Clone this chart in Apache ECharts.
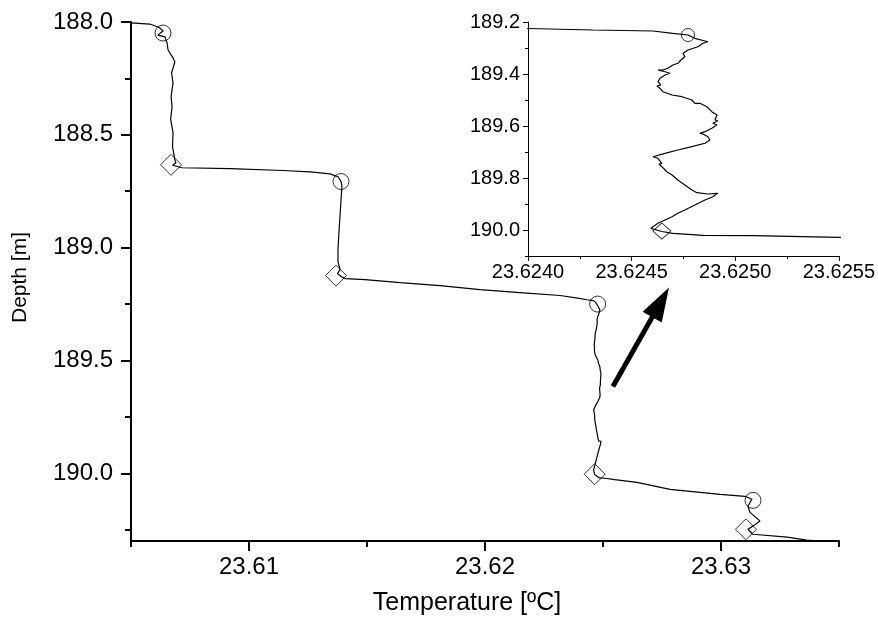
<!DOCTYPE html>
<html>
<head>
<meta charset="utf-8">
<title>Temperature profile</title>
<script src="https://cdn.jsdelivr.net/npm/echarts@6/dist/echarts.min.js"></script>
<style>
  html, body { margin: 0; padding: 0; background: #fff; }
  #chart { width: 878px; height: 621px; }
</style>
</head>
<body>
<div id="chart"></div>
<script>
// profile, top to bottom: temperature [ºC] and depth [m]
const temperature = [
  23.60500, 23.60580, 23.60614, 23.60623, 23.60636, 23.60614, 23.60644, 23.60653, 23.60657, 23.60678,
  23.60686, 23.60672, 23.60678, 23.60670, 23.60674, 23.60668, 23.60678, 23.60676, 23.60686, 23.60690,
  23.60676, 23.60716, 23.60920, 23.61144, 23.61259, 23.61343, 23.61377, 23.61390, 23.61394, 23.61390,
  23.61386, 23.61381, 23.61377, 23.61377, 23.61386, 23.61375, 23.61390, 23.61407, 23.61492, 23.61640,
  23.61809, 23.61979, 23.62148, 23.62318,
  23.624000, 23.624313, 23.624603, 23.624699, 23.624772, 23.624805, 23.624868, 23.624844, 23.624820, 23.624772,
  23.624748, 23.624757, 23.624738, 23.624723, 23.624699, 23.624675, 23.624651, 23.624627, 23.624661, 23.624685,
  23.624661, 23.624637, 23.624646, 23.624627, 23.624641, 23.624622, 23.624637, 23.624651, 23.624695, 23.624743,
  23.624791, 23.624805, 23.624830, 23.624863, 23.624887, 23.624912, 23.624902, 23.624916, 23.624892, 23.624912,
  23.624887, 23.624854, 23.624830, 23.624844, 23.624868, 23.624878, 23.624854, 23.624791, 23.624723, 23.624661,
  23.624603, 23.624627, 23.624646, 23.624632, 23.624646, 23.624670, 23.624695, 23.624723, 23.624757, 23.624791,
  23.624815, 23.624868, 23.624916, 23.624892, 23.624854, 23.624805, 23.624757, 23.624723, 23.624695, 23.624661,
  23.624627, 23.624603, 23.624593, 23.624646, 23.624699, 23.624844, 23.625085, 23.625500,
  23.62644, 23.62784, 23.62996, 23.63102, 23.63131, 23.63114, 23.63123, 23.63165, 23.63137, 23.63114,
  23.63135, 23.63280, 23.63364, 23.63462
];
const depth = [
  188.004, 188.009, 188.022, 188.027, 188.040, 188.058, 188.066, 188.093, 188.124, 188.159,
  188.177, 188.225, 188.270, 188.330, 188.376, 188.430, 188.491, 188.553, 188.611, 188.625,
  188.635, 188.646, 188.650, 188.658, 188.664, 188.673, 188.686, 188.707, 188.726, 188.788,
  188.854, 188.934, 189.009, 189.062, 189.097, 189.115, 189.128, 189.137, 189.142, 189.155,
  189.168, 189.186, 189.199, 189.212,
  189.2250, 189.2308, 189.2346, 189.2435, 189.2500, 189.2627, 189.2758, 189.2819, 189.2950, 189.3077,
  189.3204, 189.3335, 189.3462, 189.3588, 189.3654, 189.3781, 189.3846, 189.3846, 189.3912, 189.3973,
  189.4038, 189.4165, 189.4231, 189.4296, 189.4423, 189.4462, 189.4550, 189.4681, 189.4808, 189.4873,
  189.5000, 189.5127, 189.5127, 189.5258, 189.5450, 189.5577, 189.5769, 189.5808, 189.5896, 189.5962,
  189.6088, 189.6219, 189.6281, 189.6308, 189.6412, 189.6538, 189.6665, 189.6796, 189.6923, 189.7050,
  189.7181, 189.7242, 189.7435, 189.7462, 189.7565, 189.7758, 189.7885, 189.8077, 189.8269, 189.8462,
  189.8565, 189.8615, 189.8588, 189.8719, 189.8846, 189.9038, 189.9231, 189.9358, 189.9488, 189.9615,
  189.9742, 189.9873, 189.9935, 190.0058, 190.0127, 190.0204, 190.0219, 190.0281,
  190.040, 190.071, 190.093, 190.102, 190.115, 190.146, 190.173, 190.211, 190.233, 190.248,
  190.270, 190.283, 190.296, 190.305
];

// open markers
const circleTemp = [23.606356, 23.613898, 23.624772, 23.631356];
const circleDepth = [188.049, 188.707, 189.250, 190.120];
const diamondTemp = [23.606695, 23.613686, 23.624646, 23.631059];
const diamondDepth = [188.633, 189.124, 190.004, 190.248];

// ticks
const mainTempTicks = [23.61, 23.62, 23.63];
const mainTempMinor = [23.605, 23.615, 23.625, 23.635];
const mainDepthTicks = [188.0, 188.5, 189.0, 189.5, 190.0];
const mainDepthMinor = [188.25, 188.75, 189.25, 189.75, 190.25];
const insetTempTicks = [23.624, 23.6245, 23.625, 23.6255];
const insetTempMinor = [23.62425, 23.62475, 23.62525];
const insetDepthTicks = [189.2, 189.4, 189.6, 189.8, 190.0];
const insetDepthMinor = [189.3, 189.5, 189.7, 189.9, 190.1];

// arrow pointing to the inset (tail, head centre)
const arrowTail = [23.62542, 189.615];
const arrowHead = [23.62744, 189.2425];

const profile = temperature.map((t, i) => [t, depth[i]]);
const circles = circleTemp.map((t, i) => [t, circleDepth[i]]);
const diamonds = diamondTemp.map((t, i) => [t, diamondDepth[i]]);

const FONT = "'Liberation Sans', Arial, sans-serif";

function majorAxis(grid, min, max, ticks, digits, size, tickLen, lineW, position, margin) {
  return {
    type: 'value', gridIndex: grid, min: min, max: max, position: position,
    splitLine: { show: false },
    axisLine: { show: true, onZero: false, lineStyle: { color: '#000', width: lineW } },
    axisTick: { show: true, inside: false, length: tickLen, customValues: ticks,
      lineStyle: { color: '#000', width: lineW } },
    axisLabel: { show: true, customValues: ticks, margin: margin, color: '#000',
      fontSize: size, fontFamily: FONT, formatter: v => Number(v).toFixed(digits) }
  };
}
function minorAxis(grid, min, max, ticks, tickLen, lineW, position) {
  return {
    type: 'value', gridIndex: grid, min: min, max: max, position: position,
    splitLine: { show: false },
    axisLine: { show: false, onZero: false },
    axisTick: { show: true, inside: false, length: tickLen, customValues: ticks,
      lineStyle: { color: '#000', width: lineW } },
    axisLabel: { show: false }
  };
}

const xMain = majorAxis(0, 23.605, 23.635, mainTempTicks, 2, 24, 10, 2, 'bottom', 14);
xMain.name = 'Temperature [ºC]';
xMain.nameLocation = 'middle';
xMain.nameGap = 50;
xMain.nameTextStyle = { fontSize: 25, fontFamily: FONT, color: '#000', padding: [0, 36, 0, 0] };

const yMain = majorAxis(0, 188.0, 190.3, mainDepthTicks, 1, 24, 10, 2, 'left', 18);
yMain.inverse = true;
yMain.name = 'Depth [m]';
yMain.nameLocation = 'middle';
yMain.nameGap = 100;
yMain.nameRotate = 90;
yMain.nameTextStyle = { fontSize: 21, fontFamily: FONT, color: '#000', padding: [0, 0, 0, 8] };

const yMainMinor = minorAxis(0, 188.0, 190.3, mainDepthMinor, 6, 2, 'left');
yMainMinor.inverse = true;

const yInset = majorAxis(1, 189.2, 190.1, insetDepthTicks, 1, 20, 5, 1, 'left', 8);
yInset.inverse = true;
const yInsetMinor = minorAxis(1, 189.2, 190.1, insetDepthMinor, 3, 1, 'left');
yInsetMinor.inverse = true;

const lineStyle = { color: '#000', width: 1.2 };
const hollow = { color: 'rgba(0,0,0,0)', borderColor: '#000', borderWidth: 1 };

const chart = echarts.init(document.getElementById('chart'), null, { renderer: 'canvas' });
chart.setOption({
  animation: false,
  backgroundColor: '#fff',
  grid: [
    { left: 131, top: 22, right: 39, bottom: 79 },
    { left: 528, top: 22, right: 39, bottom: 365 }
  ],
  xAxis: [
    xMain,
    minorAxis(0, 23.605, 23.635, mainTempMinor, 6, 2, 'bottom'),
    majorAxis(1, 23.624, 23.6255, insetTempTicks, 4, 20, 5, 1, 'bottom', 6),
    minorAxis(1, 23.624, 23.6255, insetTempMinor, 3, 1, 'bottom')
  ],
  yAxis: [yMain, yMainMinor, yInset, yInsetMinor],
  series: [
    {
      type: 'line', xAxisIndex: 0, yAxisIndex: 0, data: profile,
      showSymbol: false, symbol: 'none', lineStyle: lineStyle, silent: true, clip: true,
      markLine: {
        silent: true, animation: false,
        label: { show: false },
        lineStyle: { color: '#000', width: 5, type: 'solid' },
        data: [[
          { coord: arrowTail, symbol: 'none' },
          { coord: arrowHead, symbol: 'triangle', symbolSize: [22, 34] }
        ]]
      }
    },
    { type: 'scatter', xAxisIndex: 0, yAxisIndex: 0, data: circles, symbol: 'circle',
      symbolSize: 16, itemStyle: hollow, silent: true },
    { type: 'scatter', xAxisIndex: 0, yAxisIndex: 0, data: diamonds, symbol: 'diamond',
      symbolSize: 21, itemStyle: hollow, silent: true },
    { type: 'line', xAxisIndex: 2, yAxisIndex: 2, data: profile,
      showSymbol: false, symbol: 'none', lineStyle: lineStyle, silent: true, clip: true },
    { type: 'scatter', xAxisIndex: 2, yAxisIndex: 2, data: circles, symbol: 'circle',
      symbolSize: 13, itemStyle: hollow, silent: true, clip: true },
    { type: 'scatter', xAxisIndex: 2, yAxisIndex: 2, data: diamonds, symbol: 'diamond',
      symbolSize: [18, 16], itemStyle: hollow, silent: true, clip: true }
  ]
});
window.addEventListener('resize', function () {
  chart.resize();
});
</script>
</body>
</html>
